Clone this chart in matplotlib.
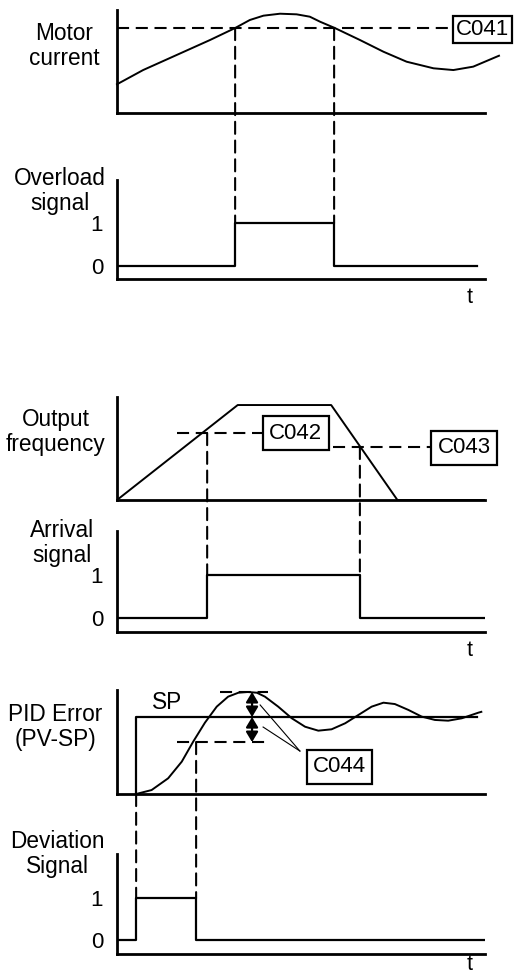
import matplotlib
matplotlib.use('Agg')
import matplotlib.pyplot as plt
from matplotlib.patches import ConnectionPatch

plt.rcParams['font.family'] = ['Liberation Sans', 'DejaVu Sans']

# === Data (time axis 0..100 for every panel)
# Motor current (% of panel height) and C041 threshold
mc_t = [0, 7.1, 16.2, 25.3, 32.1, 36.1, 39.8, 44.3, 48.8, 52.4, 55.2, 59.2, 66.0,
        72.4, 78.7, 86.0, 91.4, 96.8, 103.2, 103.8]
mc_v = [27.9, 41.7, 56.3, 70.9, 82.5, 90.3, 94.5, 96.4, 95.8, 93.5, 88.6, 82.5, 70.9,
        59.5, 49.8, 43.4, 41.7, 45.0, 54.7, 55.6]
c041_level = 82.5
overload_on, overload_off = 32.1, 59.0

# Output frequency trapezoid, C042 / C043 levels
of_t = [0, 32.8, 58.2, 76.2, 100]
of_v = [0, 92.2, 92.2, 0, 0]
c042_level = 65.0
c043_level = 51.5
arrival_on, arrival_off = 24.5, 66.0

# PID error: set point step and process value response
sp_t = [5.2, 5.2, 97.8]
sp_v = [0, 74.0, 74.0]
pv_t = [5.2, 9.4, 13.9, 17.6, 20.7, 23.9, 27.1, 30.2, 33.0, 35.5, 38.0, 40.2, 43.8,
        47.5, 51.1, 54.7, 58.3, 62.0, 65.6, 69.2, 72.4, 75.5, 79.2, 82.8, 86.4,
        90.0, 93.7, 98.2, 99.0]
pv_v = [0, 3.8, 15.1, 31.1, 50.3, 68.6, 84.0, 93.6, 97.4, 98.1, 97.4, 93.6, 84.0,
        72.8, 64.7, 60.9, 62.2, 68.0, 76.0, 84.0, 87.8, 86.5, 80.8, 74.4, 71.2,
        70.5, 72.8, 78.2, 79.0]
sp_level = 74.0
c044_band = 24.1
deviation_on, deviation_off = 5.2, 21.5

W, H = 519, 977
fig = plt.figure(figsize=(W / 100, H / 100), dpi=100)


def px_axes(top, bottom, ylim):
    ax = fig.add_axes([117 / W, 1 - bottom / H, 368 / W, (bottom - top) / H])
    ax.set_xlim(0, 100)
    ax.set_ylim(*ylim)
    for s in ['top', 'right']:
        ax.spines[s].set_visible(False)
    for s in ['left', 'bottom']:
        ax.spines[s].set_linewidth(2.0)
    ax.set_xticks([])
    ax.set_yticks([])
    ax.patch.set_alpha(0)
    return ax


def signal_axes(ax, t_offset=0.44):
    ax.set_yticks([0, 1])
    ax.set_yticklabels(['0', '1'], fontsize=16)
    ax.tick_params(axis='y', length=0, pad=10)
    ax.text(95.7, ax.get_ylim()[0] - t_offset, 't', fontsize=15.5, ha='center', va='center')


def label(x, y, s):
    fig.text(x / W, 1 - y / H, s, fontsize=16.3, ha='center', va='center',
             linespacing=1.12)


def vdash(axA, tA, yA, axB, yB):
    con = ConnectionPatch(xyA=(tA, yA), coordsA=axA.transData,
                          xyB=(tA, yB), coordsB=axB.transData,
                          color='black', lw=1.5, linestyle=(0, (5.8, 3.2)))
    fig.add_artist(con)


dash = dict(color='black', lw=1.5, dashes=(5.8, 3.2))
box = dict(boxstyle='square,pad=0.28', fc='white', ec='black', lw=1.6)
curve = dict(color='black', lw=1.4, solid_joinstyle='round')

# === Motor current
ax1 = px_axes(10, 113, (0, 100))
ax1.plot(mc_t, mc_v, clip_on=False, **curve)
ax1.plot([0, 91.0], [c041_level, c041_level], **dash)
ax1.text(99.3, c041_level - 1.5, 'C041', fontsize=16, ha='center', va='center',
         bbox=dict(boxstyle='square,pad=0.12', fc='white', ec='black', lw=1.6),
         clip_on=False)

# === Overload signal
ax2 = px_axes(180, 279, (-0.302, 2.0))
ax2.plot([0, overload_on, overload_on, overload_off, overload_off, 97.8],
         [0, 0, 1, 1, 0, 0], color='black', lw=1.6)
signal_axes(ax2)
vdash(ax1, overload_on, c041_level, ax2, 1)
vdash(ax1, overload_off, c041_level, ax2, 1)

# === Output frequency
ax3 = px_axes(397, 500, (0, 100))
ax3.plot(of_t, of_v, **curve)
ax3.plot([16.3, 39.7], [c042_level, c042_level], **dash)
ax3.plot([58.7, 85.9], [c043_level, c043_level], **dash)
ax3.text(48.6, c042_level, 'C042', fontsize=16, ha='center', va='center', bbox=box)
ax3.text(94.3, c043_level - 1, 'C043', fontsize=16, ha='center', va='center', bbox=box,
         clip_on=False)

# === Arrival signal
ax4 = px_axes(531, 632, (-0.326, 2.02))
ax4.plot([0, arrival_on, arrival_on, arrival_off, arrival_off, 100],
         [0, 0, 1, 1, 0, 0], color='black', lw=1.6)
signal_axes(ax4)
vdash(ax3, arrival_on, c042_level, ax4, 1)
vdash(ax3, arrival_off, c043_level, ax4, 1)

# === PID error
ax5 = px_axes(690, 794, (0, 100))
ax5.plot(sp_t, sp_v, color='black', lw=1.6)
ax5.plot(pv_t, pv_v, **curve)
ax5.plot([28.0, 41.0], [sp_level + c044_band] * 2, **dash)
ax5.plot([16.3, 41.0], [sp_level - c044_band] * 2, **dash)
arr = dict(arrowstyle='<|-|>,head_length=0.5,head_width=0.3', color='black', lw=1.6,
           mutation_scale=12, shrinkA=0, shrinkB=0)
ax5.annotate('', xy=(36.7, sp_level + c044_band), xytext=(36.7, sp_level), arrowprops=arr)
ax5.annotate('', xy=(36.7, sp_level), xytext=(36.7, sp_level - c044_band), arrowprops=arr)
ax5.plot([49.7, 38.9], [41.3, 85.6], color='black', lw=0.8)
ax5.plot([49.7, 39.7], [41.3, 64.4], color='black', lw=0.8)
ax5.text(60.5, 26.0, 'C044', fontsize=16, ha='center', va='center', bbox=box)
ax5.text(13.6, 88.0, 'SP', fontsize=16.3, ha='center', va='center')

# === Deviation signal
ax6 = px_axes(854, 954, (-0.333, 2.05))
ax6.plot([0, deviation_on, deviation_on, deviation_off, deviation_off, 100],
         [0, 0, 1, 1, 0, 0], color='black', lw=1.6)
signal_axes(ax6, t_offset=0.24)
vdash(ax5, deviation_on, 0, ax6, 1)
vdash(ax5, deviation_off, sp_level - c044_band, ax6, 1)

# === Panel labels
label(64, 46, 'Motor\ncurrent')
label(60, 191, 'Overload\nsignal')
label(56, 432, 'Output\nfrequency')
label(62, 543, 'Arrival\nsignal')
label(55, 727, 'PID Error\n(PV-SP)')
label(57, 854, 'Deviation\nSignal')

fig.savefig('out.png', dpi=100)
plt.close(fig)
